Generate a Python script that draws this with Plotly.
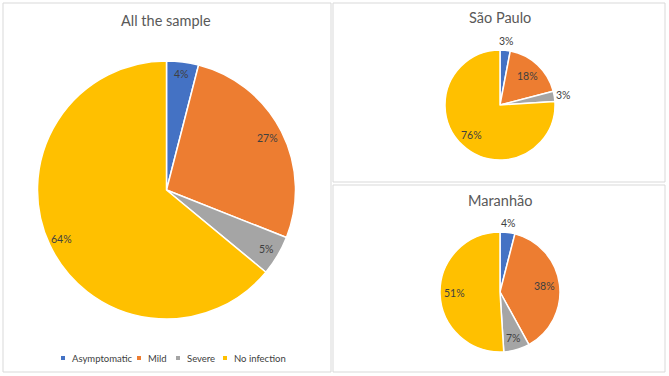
import math
import plotly.graph_objects as go

W, H = 669, 376

labels = ["Asymptomatic", "Mild", "Severe", "No infection"]
colors = ["#4472C4", "#ED7D31", "#A5A5A5", "#FFC000"]

all_sample = [4, 27, 5, 64]
sao_paulo = [3, 18, 3, 76]
maranhao = [4, 38, 7, 51]

titles = ["All the sample", "São Paulo", "Maranhão"]

FONT = "Lato"
TXT = "#404040"

# pie geometry in pixels: (cx, cy, r)
geoms = [(166.5, 190, 129), (500, 105, 55), (500, 292, 60)]
# label radial factor for each slice (Excel "best fit")
label_k = [
    [0.91, 0.88, 0.9, 0.9],
    [1.17, 0.72, 1.16, 0.76],
    [1.16, 0.74, 0.8, 0.76],
]

fig = go.Figure()
annotations = []
for vals, (cx, cy, r), ks in zip([all_sample, sao_paulo, maranhao], geoms, label_k):
    fig.add_trace(go.Pie(
        labels=labels, values=vals, sort=False, direction="clockwise", rotation=0,
        marker=dict(colors=colors, line=dict(color="white", width=1.5)),
        textinfo="none", showlegend=False, hoverinfo="label+percent",
        domain=dict(x=[(cx - r) / W, (cx + r) / W], y=[(H - cy - r) / H, (H - cy + r) / H]),
    ))
    total = sum(vals)
    cum = 0
    for v, k in zip(vals, ks):
        th = 2 * math.pi * (cum + v / 2) / total
        cum += v
        x = cx + k * r * math.sin(th)
        y = cy - k * r * math.cos(th)
        annotations.append(dict(text=f"{round(100 * v / total)}%", x=x / W, y=1 - y / H,
                                xref="paper", yref="paper", showarrow=False,
                                xanchor="center", yanchor="middle",
                                font=dict(family=FONT, size=10.5, color=TXT)))

# panel borders
panels = [(3, 3, 331, 372), (333, 3, 665, 182), (333, 185, 665, 372)]
shapes = []
for x0, y0, x1, y1 in panels:
    shapes.append(dict(type="rect", xref="paper", yref="paper",
                       x0=x0 / W, x1=x1 / W, y0=1 - y0 / H, y1=1 - y1 / H,
                       line=dict(color="#D9D9D9", width=1), fillcolor="rgba(0,0,0,0)"))

title_pos = [(166, 20), (500, 18), (500, 201)]
for t, (x, y) in zip(titles, title_pos):
    annotations.append(dict(text=t, x=x / W, y=1 - y / H, xref="paper", yref="paper",
                            showarrow=False, xanchor="center", yanchor="middle",
                            font=dict(family=FONT, size=14.5, color="#595959")))

# custom legend (small square markers like the original)
leg_y = 358
leg_marker_x = [63, 139, 178, 225]
for lab, col, mx in zip(labels, colors, leg_marker_x):
    shapes.append(dict(type="rect", xref="paper", yref="paper",
                       x0=(mx - 2) / W, x1=(mx + 2) / W,
                       y0=1 - (leg_y - 2) / H, y1=1 - (leg_y + 2) / H,
                       line=dict(width=0), fillcolor=col))
    annotations.append(dict(text=lab, x=(mx + 7) / W, y=1 - leg_y / H, xref="paper", yref="paper",
                            showarrow=False, xanchor="left", yanchor="middle",
                            font=dict(family=FONT, size=9.5, color=TXT)))

fig.update_layout(
    width=W, height=H, margin=dict(l=0, r=0, t=0, b=0),
    paper_bgcolor="white", plot_bgcolor="white",
    shapes=shapes, annotations=annotations, showlegend=False,
)

fig.write_html("out.html", config={"displayModeBar": False},
               post_script="document.body.style.margin='0';document.body.style.overflow='hidden';")
